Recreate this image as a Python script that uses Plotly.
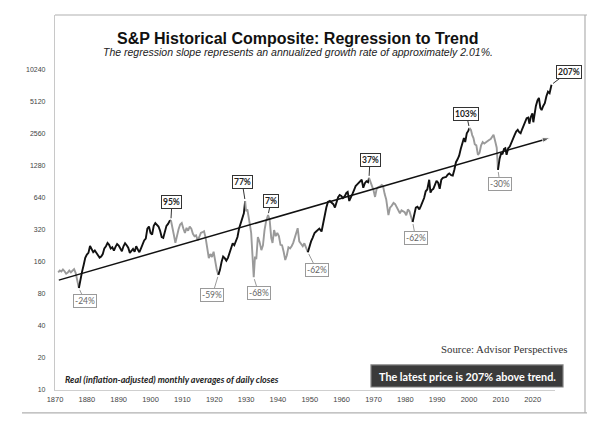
import math
import plotly.graph_objects as go

# ---------------- data ----------------
years = [
    1871.0, 1871.5, 1872.0, 1872.5, 1873.0, 1873.5, 1874.0, 1874.5, 1875.0, 1875.5,
    1876.0, 1876.5, 1877.0, 1877.5, 1878.0, 1878.5, 1879.0, 1879.5, 1880.0, 1880.5,
    1881.0, 1881.5, 1882.0, 1882.5, 1883.0, 1883.5, 1884.0, 1884.5, 1885.0, 1885.5,
    1886.0, 1886.5, 1887.0, 1887.5, 1888.0, 1888.5, 1889.0, 1889.5, 1890.0, 1890.5,
    1891.0, 1891.5, 1892.0, 1892.5, 1893.0, 1893.5, 1894.0, 1894.5, 1895.0, 1895.5,
    1896.0, 1896.5, 1897.0, 1897.5, 1898.0, 1898.5, 1899.0, 1899.5, 1900.0, 1900.5,
    1901.0, 1901.5, 1902.0, 1902.5, 1903.0, 1903.5, 1904.0, 1904.5, 1905.0, 1905.5,
    1906.0, 1906.4, 1906.8, 1907.3, 1907.8, 1908.3, 1908.8, 1909.3, 1909.8, 1910.3,
    1910.8, 1911.3, 1911.8, 1912.3, 1912.8, 1913.3, 1913.8, 1914.3, 1914.8, 1915.3,
    1915.8, 1916.3, 1916.8, 1917.3, 1917.8, 1918.3, 1918.8, 1919.3, 1919.8, 1920.3,
    1920.8, 1921.3, 1921.8, 1922.3, 1922.8, 1923.3, 1923.8, 1924.3, 1924.8, 1925.3,
    1925.8, 1926.3, 1926.8, 1927.3, 1927.8, 1928.3, 1928.8, 1929.3, 1929.7, 1930.0,
    1930.4, 1930.8, 1931.2, 1931.6, 1932.0, 1932.4, 1932.8, 1933.2, 1933.7, 1934.2,
    1934.8, 1935.3, 1935.8, 1936.3, 1936.9, 1937.4, 1937.9, 1938.3, 1938.8, 1939.3,
    1939.8, 1940.3, 1940.8, 1941.3, 1941.8, 1942.3, 1942.8, 1943.3, 1943.8, 1944.3,
    1944.8, 1945.3, 1945.8, 1946.2, 1946.7, 1947.3, 1947.8, 1948.3, 1948.8, 1949.4,
    1949.9, 1950.4, 1950.9, 1951.5, 1952.0, 1952.5, 1953.0, 1953.7, 1954.2, 1954.7,
    1955.2, 1955.7, 1956.3, 1956.8, 1957.4, 1957.9, 1958.4, 1958.9, 1959.4, 1959.9,
    1960.4, 1960.9, 1961.5, 1961.9, 1962.4, 1962.9, 1963.4, 1963.9, 1964.4, 1964.9,
    1965.4, 1965.9, 1966.3, 1966.8, 1967.3, 1967.8, 1968.3, 1968.6, 1969.0, 1969.5,
    1970.0, 1970.5, 1971.0, 1971.5, 1972.0, 1972.6, 1973.0, 1973.5, 1974.0, 1974.7,
    1975.2, 1975.7, 1976.3, 1976.8, 1977.3, 1977.8, 1978.3, 1978.8, 1979.3, 1979.8,
    1980.3, 1980.8, 1981.3, 1981.8, 1982.3, 1982.8, 1983.3, 1983.8, 1984.4, 1984.9,
    1985.4, 1985.9, 1986.4, 1986.9, 1987.5, 1987.9, 1988.3, 1988.8, 1989.3, 1989.8,
    1990.3, 1990.8, 1991.3, 1991.8, 1992.3, 1992.8, 1993.3, 1993.8, 1994.4, 1994.9,
    1995.4, 1995.9, 1996.4, 1996.9, 1997.4, 1997.9, 1998.4, 1998.8, 1999.3, 1999.8,
    2000.1, 2000.6, 2001.0, 2001.4, 2001.8, 2002.3, 2002.8, 2003.3, 2003.8, 2004.3,
    2004.8, 2005.3, 2005.8, 2006.3, 2006.8, 2007.3, 2007.7, 2008.2, 2008.7, 2009.1,
    2009.6, 2010.1, 2010.5, 2011.0, 2011.4, 2011.8, 2012.3, 2012.8, 2013.3, 2013.8,
    2014.3, 2014.8, 2015.3, 2015.8, 2016.2, 2016.7, 2017.2, 2017.7, 2018.1, 2018.6,
    2018.95, 2019.4, 2019.9, 2020.2, 2020.6, 2021.0, 2021.5, 2021.95, 2022.4, 2022.8,
    2023.3, 2023.8, 2024.3, 2024.8, 2025.3, 2025.7, 2025.9,
]
real_price = [
    128, 133, 130, 136, 131, 124, 127, 133, 128, 134,
    137, 126, 110, 91, 112, 130, 150, 175, 188, 195,
    226, 212, 198, 205, 192, 185, 176, 180, 190, 215,
    225, 242, 232, 214, 220, 205, 222, 236, 228, 212,
    202, 225, 240, 230, 218, 195, 205, 212, 200, 225,
    210, 198, 215, 240, 255, 265, 330, 345, 300, 290,
    350, 372, 355, 345, 315, 275, 270, 310, 350, 365,
    390, 395, 330, 290, 242, 290, 325, 360, 372, 330,
    300, 335, 315, 345, 330, 295, 280, 285, 255, 275,
    300, 305, 312, 270, 210, 174, 190, 178, 200, 160,
    135, 121, 135, 160, 180, 174, 165, 175, 194, 210,
    240, 230, 250, 275, 330, 370, 425, 460, 600, 480,
    500, 400, 360, 300, 200, 115, 180, 170, 275, 250,
    207, 230, 320, 390, 442, 400, 270, 242, 320, 280,
    300, 280, 232, 230, 200, 167, 185, 220, 215, 225,
    242, 270, 310, 333, 250, 232, 225, 240, 215, 198,
    225, 250, 270, 300, 310, 320, 330, 310, 380, 440,
    520, 587, 600, 580, 560, 520, 580, 650, 684, 670,
    640, 660, 714, 730, 600, 640, 700, 760, 830, 860,
    890, 940, 950, 800, 880, 920, 900, 990, 920, 820,
    760, 655, 780, 810, 820, 850, 830, 700, 620, 442,
    520, 540, 575, 560, 520, 480, 460, 490, 480, 470,
    440, 500, 480, 420, 380, 440, 520, 530, 500, 540,
    590, 640, 740, 770, 950, 720, 760, 780, 850, 930,
    890, 780, 950, 990, 1000, 1010, 1060, 1090, 1050, 1040,
    1180, 1390, 1480, 1600, 1850, 2100, 2350, 2150, 2600, 2750,
    2917, 2800, 2500, 2340, 2050, 2000, 1630, 1700, 2000, 2150,
    2080, 2150, 2200, 2250, 2300, 2450, 2520, 2200, 1900, 1174,
    1500, 1700, 1650, 1850, 1880, 1630, 1880, 1950, 2150, 2350,
    2500, 2700, 2800, 2650, 2600, 2850, 3150, 3350, 3600, 3650,
    3200, 3700, 4000, 3300, 4200, 4700, 5300, 5600, 4500, 4300,
    4700, 5000, 5800, 6400, 6200, 7200, 7450,
]

# secular phases: gray = decline phase, black = advance phase
phase_breaks = [1871.0, 1877.5, 1906.4, 1921.3, 1929.7, 1949.4, 1968.6,
                1982.3, 2000.1, 2009.1, 2025.9]
phase_is_bull = [False, True, False, True, False, True, False, True, False, True]

# regression trend line end points
trend_years = [1871.2, 2025.4]
trend_values = [108, 2350]

# callout labels: (year, value at tip, text)
label_years = [1877.5, 1906.4, 1921.3, 1929.7, 1932.4, 1936.9, 1949.4,
               1968.6, 1982.3, 2000.1, 2009.1, 2025.9]
label_values = [91, 395, 121, 600, 115, 442, 198, 990, 380, 2917, 1174, 7450]
label_texts = ["-24%", "95%", "-59%", "77%", "-68%", "7%", "-62%",
               "37%", "-62%", "103%", "-30%", "207%"]
label_offsets = [(6, 13), (1, -18), (-6, 20), (-3, -19), (5, 16), (3, -14),
                 (9, 18), (1, -18), (3, 16), (-3, -14), (2, 14), (17, -13)]

y_tick_vals = [10, 20, 40, 80, 160, 320, 640, 1280, 2560, 5120, 10240]
x_tick_vals = list(range(1870, 2021, 10))

# ---------------- figure ----------------
fig = go.Figure()

for i in range(len(phase_is_bull)):
    a, b = phase_breaks[i], phase_breaks[i + 1]
    xs = [x for x in years if a - 1e-9 <= x <= b + 1e-9]
    ys = [v for x, v in zip(years, real_price) if a - 1e-9 <= x <= b + 1e-9]
    fig.add_trace(go.Scatter(
        x=xs, y=ys, mode="lines",
        line=dict(color="#111111" if phase_is_bull[i] else "#9a9a9a", width=1.9),
        showlegend=False, hoverinfo="skip"))

fig.add_trace(go.Scatter(
    x=trend_years, y=trend_values, mode="lines+markers",
    line=dict(color="#111111", width=1.5),
    marker=dict(symbol="arrow", size=[0, 8], angleref="previous", color="#111111"),
    showlegend=False, hoverinfo="skip"))

annotations = []
for yr, val, txt, (ox, oy) in zip(label_years, label_values, label_texts, label_offsets):
    pos = not txt.startswith("-")
    col = "#222222" if pos else "#666666"
    bcol = "#333333" if pos else "#9a9a9a"
    annotations.append(dict(
        x=yr, y=math.log10(val), xref="x", yref="y",
        text=txt, showarrow=True, ax=ox, ay=oy,
        arrowhead=0, arrowwidth=1, arrowcolor=bcol, standoff=2,
        font=dict(family="Lato", size=8.5, color=col, weight="bold" if pos else "normal"),
        bgcolor="white", bordercolor=bcol, borderwidth=1, borderpad=1))

# titles and notes
annotations += [
    dict(text="S&P Historical Composite: Regression to Trend", xref="paper", yref="paper",
         x=0.486, y=0.938, xanchor="center", yanchor="middle", showarrow=False,
         font=dict(family="Liberation Sans", size=16, color="#111111", weight="bold")),
    dict(text="The regression slope represents an annualized growth rate of approximately 2.01%.",
         xref="paper", yref="paper", x=0.486, y=0.9, xanchor="center", yanchor="middle",
         showarrow=False,
         font=dict(family="Liberation Sans", size=10.5, color="#222222", style="italic")),
    dict(text="Real (inflation-adjusted) monthly averages of daily closes", xref="paper",
         yref="paper", x=0.016, y=0.029, xanchor="left", yanchor="middle", showarrow=False,
         font=dict(family="Lato", size=9, color="#222222", style="italic", weight="bold")),
    dict(text="Source: Advisor Perspectives", xref="paper", yref="paper",
         x=1.03, y=0.109, xanchor="right", yanchor="middle", showarrow=False,
         font=dict(family="Liberation Serif", size=10.8, color="#333333")),
    dict(text="The latest price is 207% above trend.", xref="paper", yref="paper",
         x=0.824, y=0.037, xanchor="center", yanchor="middle", showarrow=False,
         font=dict(family="Lato", size=10.8, color="white", weight="bold")),
]

shapes = [
    # dark text box
    dict(type="rect", xref="paper", yref="paper", x0=0.632, x1=1.016, y0=0.008, y1=0.067,
         fillcolor="#3a3a3a", line=dict(color="#808080", width=1.2), layer="below"),
    # outer frame lines
    dict(type="line", xref="paper", yref="paper", x0=0.0, x1=1.064, y0=1.0, y1=1.0,
         line=dict(color="#b0b0b0", width=1.2)),
    dict(type="line", xref="paper", yref="paper", x0=1.06, x1=1.06, y0=1.0, y1=-0.061,
         line=dict(color="#b0b0b0", width=1.2)),
    dict(type="line", xref="paper", yref="paper", x0=-0.066, x1=1.064, y0=-0.061, y1=-0.061,
         line=dict(color="#b0b0b0", width=1.2)),
]

# the page body adds an 8px offset, so the figure is 8px smaller with tighter top/left margins
fig.update_layout(
    width=592, height=435,
    margin=dict(l=47, r=45, t=7, b=53),
    paper_bgcolor="white", plot_bgcolor="white",
    annotations=annotations, shapes=shapes,
    xaxis=dict(range=[1870, 2027], tickvals=x_tick_vals, ticks="", showgrid=False,
               zeroline=False, showline=True, linecolor="#cfcfcf", linewidth=1,
               tickfont=dict(family="Liberation Sans", size=7.5, color="#444444"),
               ticklabelstandoff=2),
    yaxis=dict(type="log", range=[1, math.log10(33700)], tickvals=y_tick_vals,
               ticktext=[str(v) for v in y_tick_vals], ticks="", showgrid=False,
               zeroline=False, showline=True, linecolor="#c8c8c8", linewidth=1.2,
               tickfont=dict(family="Liberation Sans", size=7, color="#444444"),
               ticklabelstandoff=7),
)

fig.write_html("out.html")
